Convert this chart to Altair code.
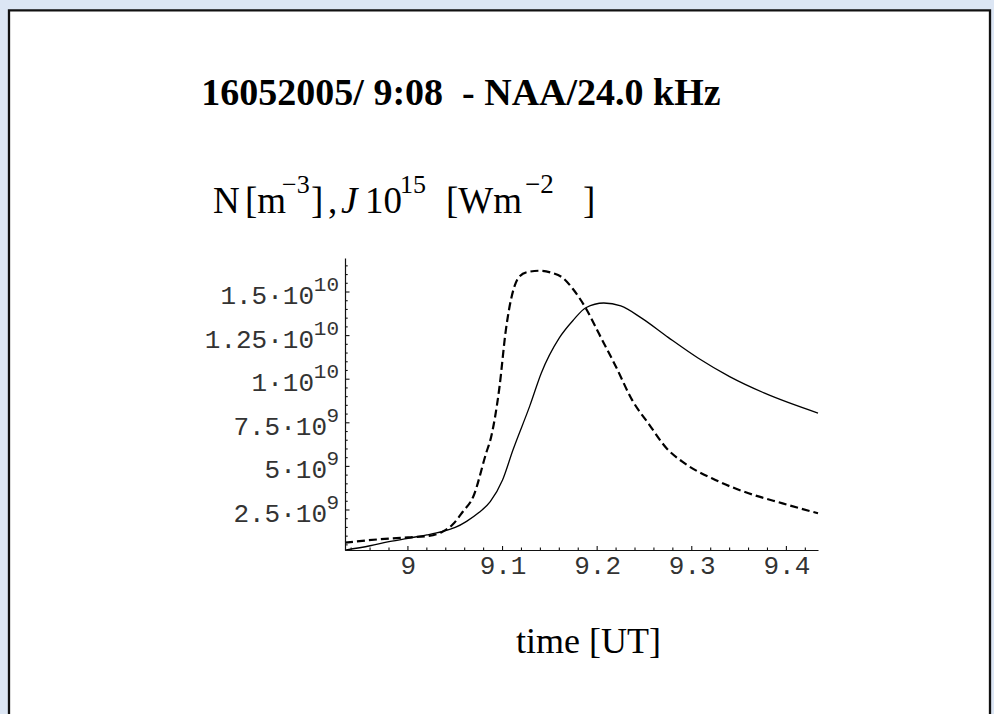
import altair as alt
import pandas as pd

# ---------------- data ----------------
# time in UT hours, values in units of 1e9
solid_t = [8.9335, 8.96, 8.98, 9.0, 9.02, 9.036, 9.05, 9.062, 9.075, 9.087, 9.1, 9.111,
           9.129, 9.141, 9.16, 9.175, 9.188, 9.207, 9.225, 9.247, 9.275, 9.307, 9.34,
           9.377, 9.4334]
solid_v = [0.2, 0.45, 0.68, 0.88, 1.07, 1.26, 1.5, 1.85, 2.35, 2.98, 4.22, 5.94,
           8.5, 10.36, 12.37, 13.4, 14.1, 14.37, 14.2, 13.5, 12.4, 11.2, 10.15,
           9.2, 8.06]

dash_t = [8.9335, 8.97, 9.0, 9.02, 9.036, 9.047, 9.058, 9.069, 9.0826, 9.088, 9.0966,
          9.1035, 9.1177, 9.127, 9.14, 9.152, 9.164, 9.174, 9.188, 9.202, 9.22, 9.237,
          9.255, 9.274, 9.29, 9.325, 9.36, 9.396, 9.4334]
dash_v = [0.63, 0.82, 0.93, 1.0, 1.24, 1.65, 2.4, 3.26, 5.75, 6.7, 9.48,
          12.82, 15.88, 16.15, 16.22, 16.1, 15.8, 15.2, 14.07, 12.6, 10.7, 8.8,
          7.4, 6.0, 5.27, 4.22, 3.46, 2.88, 2.31]

x_major = [9.0, 9.1, 9.2, 9.3, 9.4]
x_minor = [8.94, 8.96, 8.98, 9.02, 9.04, 9.06, 9.08, 9.12, 9.14, 9.16, 9.18,
           9.22, 9.24, 9.26, 9.28, 9.32, 9.34, 9.36, 9.38, 9.42]
y_major = [2.5, 5.0, 7.5, 10.0, 12.5, 15.0]
y_mant = ["2.5·10", "5·10", "7.5·10", "1·10", "1.25·10", "1.5·10"]
y_exp = ["9", "9", "9", "10", "10", "10"]
y_minor = [0.5, 1.0, 1.5, 2.0, 3.0, 3.5, 4.0, 4.5, 5.5, 6.0, 6.5, 7.0, 8.0, 8.5,
           9.0, 9.5, 10.5, 11.0, 11.5, 12.0, 13.0, 13.5, 14.0, 14.5, 15.5, 16.0, 16.5]

title_text = "16052005/ 9:08\u00a0 - NAA/24.0 kHz"
xlabel_text = "time [UT]"

# ---------------- chart ----------------
W, H = 473, 292
SERIF = "Liberation Serif"
MONO = "Liberation Mono"

xs = alt.Scale(domain=[8.9335, 9.4334], nice=False, zero=False)
ys = alt.Scale(domain=[0.206, 16.95], nice=False, zero=False)
ax_x = alt.Axis(values=x_major, format="~g", ticks=False, tickSize=0, grid=False,
                domainColor="#111", domainWidth=1.2, labelFont=MONO, labelFontSize=26,
                labelColor="#333", labelPadding=2, title=None, zindex=1)
ax_y = alt.Axis(labels=False, ticks=False, tickSize=0, grid=False,
                domainColor="#111", domainWidth=1.2, title=None, zindex=1)
X = dict(scale=xs, axis=ax_x)
Y = dict(scale=ys, axis=ax_y)

solid_df = pd.DataFrame({"t": solid_t, "v": solid_v})
dash_df = pd.DataFrame({"t": dash_t, "v": dash_v})
xmaj_df = pd.DataFrame({"t": x_major})
xmin_df = pd.DataFrame({"t": x_minor})
ymaj_df = pd.DataFrame({"v": y_major, "m": y_mant, "e": y_exp})
ymin_df = pd.DataFrame({"v": y_minor})
one = pd.DataFrame({"k": [0]})

frame = alt.Chart(one).mark_rect(fill="white", stroke="#111", strokeWidth=2.3).encode(
    x=alt.value(-336), x2=alt.value(645), y=alt.value(-247.7), y2=alt.value(480)
)

solid = alt.Chart(solid_df).mark_line(color="black", strokeWidth=1.3, interpolate="monotone").encode(
    x=alt.X("t:Q", **X), y=alt.Y("v:Q", **Y)
)
dashed = alt.Chart(dash_df).mark_line(color="black", strokeWidth=2.2, strokeDash=[8, 4],
                                      interpolate="monotone").encode(
    x=alt.X("t:Q", **X), y=alt.Y("v:Q", **Y)
)

xmaj_ticks = alt.Chart(xmaj_df).mark_rule(color="#111", strokeWidth=1.1).encode(
    x=alt.X("t:Q", **X), y=alt.value(H), y2=alt.value(H - 4)
)
xmin_ticks = alt.Chart(xmin_df).mark_rule(color="#111", strokeWidth=1.1).encode(
    x=alt.X("t:Q", **X), y=alt.value(H), y2=alt.value(H - 2.5)
)
ymaj_ticks = alt.Chart(ymaj_df).mark_rule(color="#111", strokeWidth=1.1).encode(
    y=alt.Y("v:Q", **Y), x=alt.value(0), x2=alt.value(4.5)
)
ymin_ticks = alt.Chart(ymin_df).mark_rule(color="#111", strokeWidth=1.1).encode(
    y=alt.Y("v:Q", **Y), x=alt.value(0), x2=alt.value(2.7)
)

mant2 = alt.Chart(ymaj_df).transform_filter("length(datum.e) == 2").mark_text(
    font=MONO, fontSize=26, color="#333", align="right", baseline="alphabetic", dy=12
).encode(y=alt.Y("v:Q", **Y), x=alt.value(-31), text="m:N")
mant1 = alt.Chart(ymaj_df).transform_filter("length(datum.e) == 1").mark_text(
    font=MONO, fontSize=26, color="#333", align="right", baseline="alphabetic", dy=12
).encode(y=alt.Y("v:Q", **Y), x=alt.value(-18), text="m:N")
expo = alt.Chart(ymaj_df).mark_text(
    font=MONO, fontSize=21, color="#333", align="right", baseline="alphabetic", dy=-1
).encode(y=alt.Y("v:Q", **Y), x=alt.value(-6), text="e:N")


def label(txt, x, y, size, weight="normal", style="normal", align="left"):
    return alt.Chart(one).mark_text(
        text=txt, font=SERIF, fontSize=size, fontWeight=weight, fontStyle=style,
        align=align, baseline="alphabetic", color="black"
    ).encode(x=alt.value(x), y=alt.value(y))


BASE, SUP = -45, -64.7
texts = [
    label(title_text, 116, -153, 38, weight="bold", align="center"),
    label("N", -132, BASE, 37),
    label("[m", -100, BASE, 37),
    label("−3", -63, SUP, 26),
    label("]", -34, BASE, 37),
    label(",", -17, BASE, 37),
    label("J", -4, BASE, 37, style="italic"),
    label("10", 20, BASE, 37),
    label("15", 55, SUP, 26),
    label("[Wm", 101, BASE, 37),
    label("−2", 180, SUP, 27),
    label("]", 238, BASE, 37),
    label(xlabel_text, 243.5, 395, 36, align="center"),
]

chart = alt.layer(
    frame, solid, dashed, xmaj_ticks, xmin_ticks, ymaj_ticks, ymin_ticks,
    mant2, mant1, expo, *texts
).properties(
    width=W, height=H,
    autosize=alt.AutoSizeParams(type="none"),
    padding={"left": 345, "top": 258, "right": 176, "bottom": 164},
    background="#dce6f4",
).configure_view(stroke=None)

chart.save("out.html", embed_options={"renderer": "svg", "actions": False})
